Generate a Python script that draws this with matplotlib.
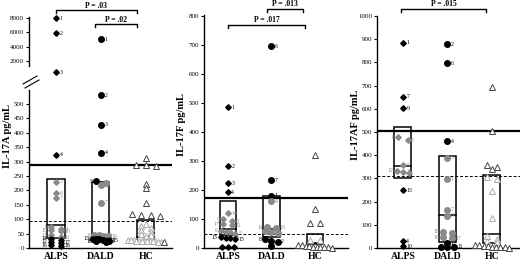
import numpy as np
import matplotlib.pyplot as plt
from matplotlib.lines import Line2D
from matplotlib.patches import Rectangle
from matplotlib.transforms import blended_transform_factory

plt.rcParams["font.family"] = ["Liberation Serif", "DejaVu Serif"]

groups = ["ALPS", "DALD", "HC"]

# ---- IL-17A (pg/mL) ----
a_alps_hi = [8000, 5900, 400]
a_alps_hi_lab = ["1", "2", "3"]
a_alps = [324, 231, 190, 172, 72, 66, 62, 58, 45, 38, 33, 28, 22, 18, 10, 8]
a_alps_lab = ["4", "5", "6", "7", "9", "8", "15", "10", "13", "11", "14", "", "12", "17", "16", "18"]
a_dald_hi = [5050]
a_dald_hi_lab = ["1"]
a_dald = [531, 428, 331, 232, 226, 218, 158, 45, 44, 42, 40, 33, 30, 30, 28, 26, 25, 24, 22]
a_dald_lab = ["2", "3", "4", "5", "", "6", "7", "8", "9", "10", "19", "13", "11", "", "12", "17", "15", "16", "14"]
a_hc = [313, 290, 288, 285, 224, 207, 158, 118, 116, 114, 112, 85, 75, 68, 62, 55, 50, 45, 40,
        28, 27, 27, 26, 26, 25, 25, 24, 24, 23, 23, 22, 22, 20]
a_box = {"ALPS": (36, 80, 240), "DALD": (35, 42, 231), "HC": (22, 38, 97)}
a_solid, a_dash = 290, 95

# ---- IL-17F (pg/mL) ----
f_alps = [486, 283, 224, 193, 120, 100, 93, 82, 78, 60, 57, 55, 50, 38, 35, 33, 30, 3, 3, 3]
f_alps_lab = ["1", "2", "3", "4", "14", "9", "8", "17", "11", "6", "", "", "5", "13", "", "12", "15", "", "", ""]
f_dald = [697, 234, 180, 162, 72, 70, 58, 55, 52, 31, 25, 21, 8]
f_dald_lab = ["6", "7", "1", "4", "14", "13", "", "", "", "8", "", "2", ""]
f_hc = [320, 134, 86, 86, 28, 27, 12, 10, 8, 6, 5, 4, 3, 2, 2, 1]
f_box = {"ALPS": (45, 65, 162), "DALD": (38, 65, 178), "HC": (14, 17, 48)}
f_solid, f_dash = 172, 48

# ---- IL-17AF (pg/mL) ----
af_alps = [884, 651, 603, 478, 465, 357, 332, 328, 325, 250, 30, 8]
af_alps_lab = ["1", "7", "9", "8", "2", "5", "12", "3", "", "13", "4", "10"]
af_dald = [879, 797, 461, 388, 297, 164, 138, 69, 63, 47, 42, 20, 5, 5, 5]
af_dald_lab = ["2", "6", "4", "5", "1", "7", "3", "18", "", "16", "17", "12", "15", "", "11"]
af_hc = [694, 504, 358, 350, 340, 306, 297, 246, 129, 50, 40, 32, 28, 15, 12, 10, 8, 6, 5, 4, 3, 2]
af_box = {"ALPS": (302, 353, 521), "DALD": (26, 142, 397), "HC": (20, 60, 315)}
af_solid, af_dash = 505, 312

W, H = 520, 264
fig = plt.figure(figsize=(5.2, 2.64), dpi=100)


def px_axes(x0, y0, x1, y1):
    return fig.add_axes([x0 / W, 1 - y1 / H, (x1 - x0) / W, (y1 - y0) / H])


def style(ax, xlim, ylim, ticks, bottom=True):
    ax.set_xlim(*xlim)
    ax.set_ylim(*ylim)
    ax.patch.set_alpha(0)
    for s in ["top", "right"]:
        ax.spines[s].set_visible(False)
    ax.spines["bottom"].set_visible(bottom)
    ax.spines["left"].set_linewidth(1)
    ax.spines["bottom"].set_linewidth(1)
    ax.set_yticks(ticks)
    ax.tick_params(axis="y", direction="out", length=2.5, width=0.8, labelsize=5, pad=1)
    if bottom:
        ax.set_xticks(range(3))
        ax.set_xticklabels(groups, fontsize=7, fontweight="bold")
        ax.tick_params(axis="x", length=0, pad=3)
    else:
        ax.set_xticks([])


def spread(vals, tol, width):
    # spread points of similar value sideways
    order = np.argsort(vals)[::-1]
    offs = np.zeros(len(vals))
    clusters, cur = [], [order[0]]
    for i in order[1:]:
        if abs(vals[cur[0]] - vals[i]) < tol:
            cur.append(i)
        else:
            clusters.append(cur)
            cur = [i]
    clusters.append(cur)
    for c in clusters:
        n = len(c)
        step = min(0.22, width / n)
        for k, i in enumerate(c):
            offs[i] = (k - (n - 1) / 2) * step
    return offs


def draw_group(ax, x, vals, labels, box, kind, tol):
    vals = np.asarray(vals, float)
    q1, med, q3 = box if box else (None, None, None)
    if box:
        ax.add_patch(Rectangle((x - 0.19, q1), 0.38, q3 - q1, fill=False, ec="black", lw=1.1, zorder=2))
        ax.plot([x - 0.19, x + 0.19], [med, med], color="black", lw=1.1, zorder=2)
    offs = spread(vals, tol, 0.85 if kind == "^" else 0.42)
    for i, v in enumerate(vals):
        inside = box is not None and q1 <= v <= q3
        col = "#8a8a8a" if inside else "black"
        xx = x + offs[i]
        if kind == "D":
            ax.plot(xx, v, "D", ms=2.8, color=col, mec=col, zorder=3, clip_on=False)
        elif kind == "o":
            ax.plot(xx, v, "o", ms=4, color=col, mec=col, zorder=3, clip_on=False)
        else:
            ec = "#aaaaaa" if inside else "#444444"
            ax.plot(xx, v, "^", ms=4, mfc="white", mec=ec, mew=0.7, zorder=3, clip_on=False)
        if labels and labels[i]:
            if offs[i] < 0:
                ax.text(xx - 0.08, v, labels[i], fontsize=4.2, color=col, ha="right", va="center", zorder=4)
            else:
                ax.text(xx + 0.08, v, labels[i], fontsize=4.2, color=col, ha="left", va="center", zorder=4)


def bracket(ax, x0, x1, ypx, text):
    tr = blended_transform_factory(ax.transData, fig.transFigure)
    y = 1 - ypx / H
    d = 3 / H
    ax.plot([x0, x0, x1, x1], [y - d, y, y, y - d], color="black", lw=1, transform=tr, clip_on=False)
    ax.text((x0 + x1) / 2, y + 0.5 / H, text, transform=tr, ha="center", va="bottom",
            fontsize=5.5, fontweight="bold")


def thresholds(ax, solid, dash):
    ax.axhline(solid, color="black", lw=1.6, zorder=1)
    ax.axhline(dash, color="black", lw=0.7, ls=(0, (3, 2)), zorder=1)


# ---- panel 1: broken axis ----
xl1 = (-0.6, 2.58)
ax1t = px_axes(29, 17, 172, 76)
style(ax1t, xl1, (-90, 8140), [2000, 4000, 6000, 8000], bottom=False)
ax1t.spines["left"].set_bounds(1300, 8140)
ax1b = px_axes(29, 90, 172, 248)
style(ax1b, xl1, (0, 549), np.arange(0, 501, 50))
thresholds(ax1b, a_solid, a_dash)
draw_group(ax1t, 0, a_alps_hi, a_alps_hi_lab, None, "D", 300)
draw_group(ax1t, 1, a_dald_hi, a_dald_hi_lab, None, "o", 300)
draw_group(ax1b, 0, a_alps, a_alps_lab, a_box["ALPS"], "D", 9)
draw_group(ax1b, 1, a_dald, a_dald_lab, a_box["DALD"], "o", 9)
draw_group(ax1b, 2, a_hc, None, a_box["HC"], "^", 9)
for (x0, y0, x1, y1) in [(23, 84, 37, 76), (25, 88, 39, 80)]:
    fig.add_artist(Line2D([x0 / W, x1 / W], [1 - y0 / H, 1 - y1 / H], color="black", lw=0.8))
bracket(ax1t, 0, 1.8, 10, "P = .03")
bracket(ax1t, 0.87, 1.8, 24, "P = .02")
fig.text(8 / W, 1 - 136 / H, "IL-17A pg/mL", rotation=90, ha="center", va="center",
         fontsize=7.5, fontweight="bold")

# ---- panel 2 ----
ax2 = px_axes(204, 15, 348, 248)
style(ax2, (-0.55, 2.76), (0, 805), np.arange(0, 801, 100))
thresholds(ax2, f_solid, f_dash)
draw_group(ax2, 0, f_alps, f_alps_lab, f_box["ALPS"], "D", 12)
draw_group(ax2, 1, f_dald, f_dald_lab, f_box["DALD"], "o", 12)
draw_group(ax2, 2, f_hc, None, f_box["HC"], "^", 12)
bracket(ax2, 0.9, 1.72, 9, "P = .013")
bracket(ax2, 0, 1.77, 25, "P = .017")
fig.text(182 / W, 1 - 125 / H, "IL-17F pg/mL", rotation=90, ha="center", va="center",
         fontsize=7.5, fontweight="bold")

# ---- panel 3 ----
ax3 = px_axes(377, 16, 520, 248)
style(ax3, (-0.58, 2.63), (0, 1000), np.arange(0, 1001, 100))
thresholds(ax3, af_solid, af_dash)
draw_group(ax3, 0, af_alps, af_alps_lab, af_box["ALPS"], "D", 15)
draw_group(ax3, 1, af_dald, af_dald_lab, af_box["DALD"], "o", 15)
draw_group(ax3, 2, af_hc, None, af_box["HC"], "^", 15)
bracket(ax3, -0.04, 1.87, 9, "P = .015")
fig.text(355 / W, 1 - 125 / H, "IL-17AF pg/mL", rotation=90, ha="center", va="center",
         fontsize=7.5, fontweight="bold")

fig.savefig("out.png", dpi=100)
